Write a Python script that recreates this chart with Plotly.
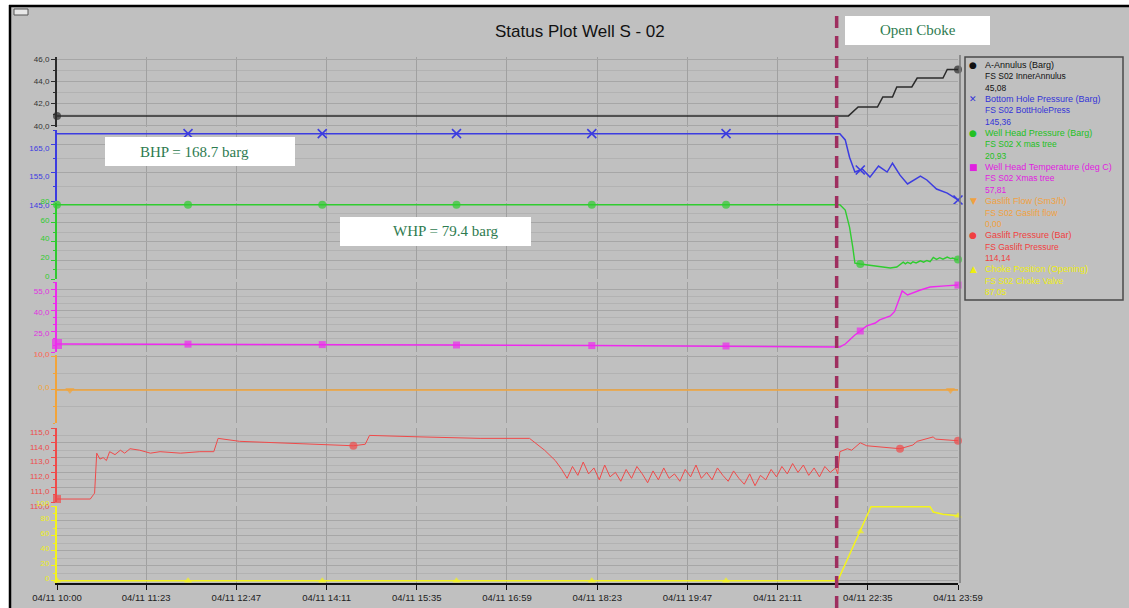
import plotly.graph_objects as go

DAY = "2011-04-11 "

# ---------------- data ----------------
x_tick_labels = ["04/11 10:00", "04/11 11:23", "04/11 12:47", "04/11 14:11", "04/11 15:35",
                 "04/11 16:59", "04/11 18:23", "04/11 19:47", "04/11 21:11", "04/11 22:35",
                 "04/11 23:59"]
choke_open_time = "22:06"

annulus_time = ["10:00", "22:17", "22:26", "22:44", "22:49", "22:58", "23:02", "23:16", "23:21",
                "23:45", "23:49", "23:59"]
annulus_val = [40.9, 40.9, 41.7, 41.7, 42.6, 42.6, 43.5, 43.5, 44.3, 44.3, 45.08, 45.08]
annulus_mk_time = ["10:00", "23:59"]
annulus_mk_val = [40.9, 45.08]

bhp_time = ["10:00", "22:09", "22:14", "22:18", "22:23", "22:30", "22:37", "22:45", "22:53",
            "22:58", "23:05", "23:12", "23:24", "23:30", "23:39", "23:49", "23:59"]
bhp_val = [168.7, 168.7, 166.5, 160.4, 155.2, 156.2, 153.4, 157.3, 155.2, 158.3, 154.1, 151.0,
           153.8, 152.4, 149.2, 147.8, 145.36]
bhp_mk_time = ["12:02", "14:07", "16:12", "18:18", "20:23", "22:28", "23:59"]
bhp_mk_val = [168.7, 168.7, 168.7, 168.7, 168.7, 155.9, 145.36]

whp_time = ["10:00", "22:09", "22:14", "22:18", "22:21", "22:23", "22:28", "22:37", "22:47",
            "22:56", "23:02", "23:05", "23:08", "23:10", "23:12", "23:15", "23:17", "23:20",
            "23:24", "23:27", "23:30", "23:33", "23:36", "23:39", "23:42", "23:45", "23:49",
            "23:52", "23:54", "23:57", "23:59"]
whp_val = [79.4, 79.4, 73.8, 55.6, 34.0, 17.0, 16.0, 14.5, 13.2, 11.8, 12.8, 15.5, 18.0, 16.2,
           17.8, 16.5, 18.4, 17.2, 19.5, 18.0, 19.8, 18.6, 23.0, 21.0, 22.8, 21.2, 23.5,
           21.8, 22.4, 21.0, 20.93]
whp_mk_time = ["10:00", "12:02", "14:07", "16:12", "18:18", "20:23", "22:28", "23:59"]
whp_mk_val = [79.4, 79.4, 79.4, 79.4, 79.4, 79.4, 16.0, 20.93]

wht_time = ["10:00", "12:02", "14:07", "16:12", "18:18", "20:23", "22:07", "22:09", "22:14",
            "22:18", "22:23", "22:28", "22:34", "22:42", "22:46", "22:56", "23:00", "23:07",
            "23:12", "23:24", "23:33", "23:47", "23:59"]
wht_val = [15.7, 15.6, 15.3, 15.0, 14.6, 14.3, 14.0, 13.6, 15.7, 18.6, 22.1, 25.0, 28.6, 30.7,
           32.9, 35.7, 39.0, 53.6, 50.7, 54.3, 56.4, 57.2, 57.81]
wht_mk_time = ["10:00", "12:02", "14:07", "16:12", "18:18", "20:23", "22:28", "23:59"]
wht_mk_val = [15.7, 15.6, 15.3, 15.0, 14.6, 14.3, 25.0, 57.81]

glf_time = ["10:00", "23:59"]
glf_val = [0.0, 0.0]
glf_mk_time = ["10:12", "23:52"]
glf_mk_val = [0.0, 0.0]

glp_time = ["10:00", "10:31", "10:34", "10:35", "10:37", "10:40", "10:43", "10:46", "10:49",
            "10:54", "10:59", "11:03", "11:08", "11:17", "11:27", "11:36", "11:55", "12:13",
            "12:26", "12:30", "12:50", "13:28", "14:05", "14:36", "14:47", "14:51", "15:38",
            "16:34", "17:20", "17:34", "17:44",
            "17:50", "17:55", "18:00", "18:05", "18:10", "18:15", "18:20", "18:25", "18:30",
            "18:35", "18:40", "18:45", "18:50", "18:55", "19:00", "19:05", "19:10", "19:15",
            "19:20", "19:25", "19:30", "19:35", "19:40", "19:45", "19:50", "19:55", "20:00",
            "20:05", "20:10", "20:15", "20:20", "20:25", "20:30", "20:35", "20:40", "20:45",
            "20:50", "20:55", "21:00", "21:05", "21:10", "21:15", "21:20", "21:25", "21:30",
            "21:35", "21:40", "21:45", "21:50", "21:55", "22:00", "22:05",
            "22:07", "22:09", "22:16", "22:20", "22:28", "22:34", "22:53", "23:05", "23:17",
            "23:21", "23:36", "23:38", "23:59"]
glp_val = [110.2, 110.2, 110.5, 110.6, 113.3, 112.9, 113.0, 112.8, 113.4,
           113.2, 113.5, 113.3, 113.6, 113.5, 113.3, 113.4, 113.3, 113.4,
           113.4, 114.3, 114.1, 114.0, 113.9, 113.8, 113.9, 114.5, 114.4,
           114.3, 114.3, 113.5, 112.8,
           112.2, 111.6, 112.4, 111.8, 112.7, 111.9, 112.3, 111.5, 112.5,
           111.7, 112.0, 111.4, 112.2, 111.6, 112.4, 111.9, 111.3, 112.1,
           111.5, 112.3, 111.6, 111.9, 111.4, 112.2, 111.7, 112.5, 111.6,
           112.0, 111.5, 112.3, 111.8, 111.4, 112.1, 111.6, 111.2, 111.9,
           111.1, 111.8, 111.5, 112.2, 111.7, 112.4, 111.9, 112.6, 112.0,
           112.5, 111.8, 112.3, 111.7, 112.4, 112.0, 112.3,
           111.9, 113.4, 113.6, 113.5, 114.0, 113.8, 113.7, 113.6, 113.85,
           114.1, 114.4, 114.25, 114.14]
glp_mk_time = ["10:00", "14:36", "23:05", "23:59"]
glp_mk_val = [110.2, 113.8, 113.6, 114.14]

choke_time = ["10:00", "22:07", "22:38", "23:33", "23:36", "23:45", "23:59"]
choke_val = [0.0, 0.0, 99.0, 99.0, 92.0, 89.0, 87.05]
choke_mk_time = ["10:00", "12:02", "14:07", "16:12", "18:18", "20:23", "22:28", "23:59"]
choke_mk_val = [0.0, 0.0, 0.0, 0.0, 0.0, 0.0, 66.0, 87.05]

legend_names = ["A-Annulus (Barg)", "Bottom Hole Pressure (Barg)", "Well Head Pressure (Barg)",
                "Well Head Temperature (deg C)", "Gaslift Flow (Sm3/h)", "Gaslift Pressure (Bar)",
                "Choke Position (Opening)"]
legend_tags = ["FS S02 InnerAnnulus", "FS S02 BottHolePress", "FS S02 X mas tree",
               "FS S02 Xmas tree", "FS S02 Gaslift flow", "FS Gaslift Pressure",
               "FS S02 Choke Valve"]

# ---------------- layout helpers ----------------
W, H = 1129, 608
BG = "#c0c0c0"
GRID_MAJ = "#a6a6a6"
GRID_MIN = "#b2b2b2"
FONT = "Liberation Sans, Arial, sans-serif"


def ts(lst):
    return [DAY + s for s in lst]


def ydom(top_px, bot_px):
    return [1 - bot_px / H, 1 - top_px / H]


series = [
    dict(t=annulus_time, v=annulus_val, mt=annulus_mk_time, mv=annulus_mk_val,
         color="#2b2b2b", tcolor="#333333", lw=1.5, sym="circle", ms=8,
         dom=(57, 127), rng=[39.9, 46.2], dtick=2, tick0=40, minor=1, fmt=".1f",
         shift=0, lsym="●", lcolor="#111111"),
    dict(t=bhp_time, v=bhp_val, mt=bhp_mk_time, mv=bhp_mk_val,
         color="#3c3ce0", tcolor="#3c3ce0", lw=1.5, sym="x-thin", ms=9,
         dom=(130, 201), rng=[145, 170], dtick=10, tick0=145, minor=5, fmt=".1f",
         shift=4, lsym="✕", lcolor="#3434d8"),
    dict(t=whp_time, v=whp_val, mt=whp_mk_time, mv=whp_mk_val,
         color="#2fcc2f", tcolor="#2fcc2f", lw=1.4, sym="circle", ms=8,
         dom=(203, 279), rng=[0, 81.3], dtick=20, tick0=0, minor=10, fmt=".0f",
         shift=-3, lsym="●", lcolor="#22c022"),
    dict(t=wht_time, v=wht_val, mt=wht_mk_time, mv=wht_mk_val,
         color="#ee2aee", tcolor="#e030e0", lw=1.4, sym="square", ms=7,
         dom=(282, 352), rng=[10, 60], dtick=15, tick0=10, minor=5, fmt=".1f",
         shift=2, lsym="■", lcolor="#e020e0"),
    dict(t=glf_time, v=glf_val, mt=glf_mk_time, mv=glf_mk_val,
         color="#f2a43a", tcolor="#f2a43a", lw=1.4, sym="triangle-down", ms=8,
         dom=(355, 423), rng=[-10, 10.6], dtick=10, tick0=0, minor=5, fmt=".1f",
         shift=-3, tickvals=[0, 10], lsym="▼", lcolor="#f0a040"),
    dict(t=glp_time, v=glp_val, mt=glp_mk_time, mv=glp_mk_val,
         color="#f04a4a", tcolor="#ee4a4a", lw=1.0, sym="circle", ms=8,
         dom=(428, 502), rng=[110, 115], dtick=1, tick0=110, minor=0.5, fmt=".1f",
         shift=4, lsym="●", lcolor="#f04040"),
    dict(t=choke_time, v=choke_val, mt=choke_mk_time, mv=choke_mk_val,
         color="#f4f41c", tcolor="#eeee20", lw=1.5, sym="triangle-up", ms=7,
         dom=(506, 583), rng=[-3, 100], dtick=20, tick0=0, minor=10, fmt=".0f",
         shift=-3, lsym="▲", lcolor="#eeee10"),
]

fig = go.Figure()
layout_axes = {}
for i, s in enumerate(series):
    yname = "y" if i == 0 else f"y{i + 1}"
    fig.add_trace(go.Scatter(x=ts(s["t"]), y=s["v"], mode="lines", yaxis=yname,
                             line=dict(color=s["color"], width=s["lw"]), hoverinfo="skip"))
    if s["sym"] == "x-thin":
        mk = dict(symbol="x-thin", size=s["ms"], line=dict(width=1.6, color=s["color"]))
    else:
        sizes = [s["ms"]] * len(s["mt"])
        syms = [s["sym"]] * len(s["mt"])
        if s["sym"] == "square":
            sizes[0] = 10
        if s["color"] == "#f04a4a":
            syms[0] = "square"
        mk = dict(symbol=syms, size=sizes, color=s["color"], line=dict(width=0))
    fig.add_trace(go.Scatter(x=ts(s["mt"]), y=s["mv"], mode="markers", yaxis=yname,
                             marker=mk, hoverinfo="skip", cliponaxis=False))
    ax = dict(domain=ydom(*s["dom"]), range=s["rng"], anchor="x", automargin=False,
              showline=True, linecolor=s["color"], linewidth=2,
              ticks="outside", ticklen=4, tickcolor=s["color"], tickwidth=1,
              tickfont=dict(size=8, color=s["tcolor"], family=FONT), tickformat=s["fmt"],
              ticklabelshift=s["shift"],
              showgrid=True, gridcolor=GRID_MAJ, gridwidth=1, zeroline=False,
              minor=dict(dtick=s["minor"], tick0=s["tick0"], ticks="outside", ticklen=2,
                         tickcolor=s["color"], showgrid=True, gridcolor=GRID_MIN, gridwidth=1))
    if "tickvals" in s:
        ax["tickvals"] = s["tickvals"]
    else:
        ax["dtick"] = s["dtick"]
        ax["tick0"] = s["tick0"]
    layout_axes["yaxis" if i == 0 else f"yaxis{i + 1}"] = ax

tickvals = [DAY + lbl.split()[1] for lbl in x_tick_labels]

fig.update_layout(
    width=W, height=H, autosize=False,
    margin=dict(l=0, r=0, t=0, b=0, pad=0, autoexpand=False),
    paper_bgcolor=BG, plot_bgcolor=BG,
    showlegend=False, separators=",.",
    font=dict(family=FONT, size=8, color="#222222"),
    xaxis=dict(type="date", domain=[57 / W, 958 / W], automargin=False,
               range=[DAY + "10:00", DAY + "23:59"], anchor="y7",
               tickvals=tickvals, ticktext=x_tick_labels,
               showline=True, linecolor="#111111", linewidth=2,
               ticks="outside", ticklen=5, tickcolor="#111111",
               tickfont=dict(size=9.5, color="#222222", family=FONT),
               showgrid=True, gridcolor="#a0a0a0", zeroline=False),
    **layout_axes,
)

shapes = []
# outer white frame + black border
shapes.append(dict(type="rect", xref="paper", yref="paper", x0=0, x1=9 / W, y0=0, y1=1,
                   fillcolor="white", line=dict(width=0), layer="above"))
shapes.append(dict(type="rect", xref="paper", yref="paper", x0=0, x1=1, y0=1 - 5 / H, y1=1,
                   fillcolor="white", line=dict(width=0), layer="above"))
shapes.append(dict(type="line", xref="paper", yref="paper", x0=10 / W, x1=10 / W, y0=0,
                   y1=1 - 5 / H, line=dict(color="black", width=2.5), layer="above"))
shapes.append(dict(type="line", xref="paper", yref="paper", x0=9 / W, x1=1, y0=1 - 6 / H,
                   y1=1 - 6 / H, line=dict(color="black", width=2.5), layer="above"))
# small window icon
shapes.append(dict(type="rect", xref="paper", yref="paper", x0=14 / W, x1=28 / W,
                   y0=1 - 15 / H, y1=1 - 9 / H, fillcolor="#e8e8e8",
                   line=dict(color="#555555", width=1), layer="above"))
# right edge of plot area
shapes.append(dict(type="line", xref="paper", yref="paper", x0=960 / W, x1=960 / W,
                   y0=1 - 583 / H, y1=1 - 55 / H, line=dict(color="#7a7a7a", width=1.5)))
# legend box
shapes.append(dict(type="rect", xref="paper", yref="paper", x0=965 / W, x1=1123 / W,
                   y0=1 - 300 / H, y1=1 - 57 / H, line=dict(color="#4a4a4a", width=1.5)))
# white note boxes
for x0, x1, y0, y1 in [(105, 295, 137, 166), (340, 531, 217, 246), (845, 990, 16, 45)]:
    shapes.append(dict(type="rect", xref="paper", yref="paper", x0=x0 / W, x1=x1 / W,
                       y0=1 - y1 / H, y1=1 - y0 / H, fillcolor="white",
                       line=dict(width=0), layer="above"))
# choke opening marker
shapes.append(dict(type="line", xref="x", yref="paper", x0=DAY + choke_open_time,
                   x1=DAY + choke_open_time, y0=0, y1=1 - 12 / H,
                   line=dict(color="#9e2f5f", width=3.5, dash="12px,8px"), layer="above"))

annotations = []
annotations.append(dict(text="Status Plot Well S - 02", xref="paper", yref="paper",
                        x=580 / W, y=1 - 32 / H, showarrow=False, xanchor="center",
                        yanchor="middle", font=dict(size=17, color="#111111", family=FONT)))

note_font = dict(size=15, color="#2e7b50", family="Liberation Serif, DejaVu Serif, serif")
for txt, cx, cy in [("BHP = 168.7 barg", 194, 152),
                    ("WHP = 79.4 barg", 446, 231),
                    ("Open Cboke", 918, 30)]:
    annotations.append(dict(text=txt, xref="paper", yref="paper", x=cx / W, y=1 - cy / H,
                            showarrow=False, xanchor="center", yanchor="middle",
                            font=note_font))

line_gap = 11.35
for k, s in enumerate(series):
    last = f"{s['v'][-1]:.2f}".replace(".", ",")
    lines = [legend_names[k], legend_tags[k], last]
    sizes = [9, 8.5, 8.5]
    base = 65 + 3 * k * line_gap
    annotations.append(dict(text=s["lsym"], xref="paper", yref="paper", x=973 / W,
                            y=1 - base / H, showarrow=False, xanchor="center", yanchor="middle",
                            font=dict(size=9, color=s["lcolor"], family="DejaVu Sans")))
    for j, ln in enumerate(lines):
        annotations.append(dict(text=ln, xref="paper", yref="paper", x=983 / W,
                                y=1 - (base + j * line_gap) / H, showarrow=False,
                                xanchor="left", yanchor="middle",
                                font=dict(size=sizes[j], color=s["lcolor"], family=FONT)))

fig.update_layout(shapes=shapes, annotations=annotations)

fig.write_html("out.html", config={"responsive": False})
